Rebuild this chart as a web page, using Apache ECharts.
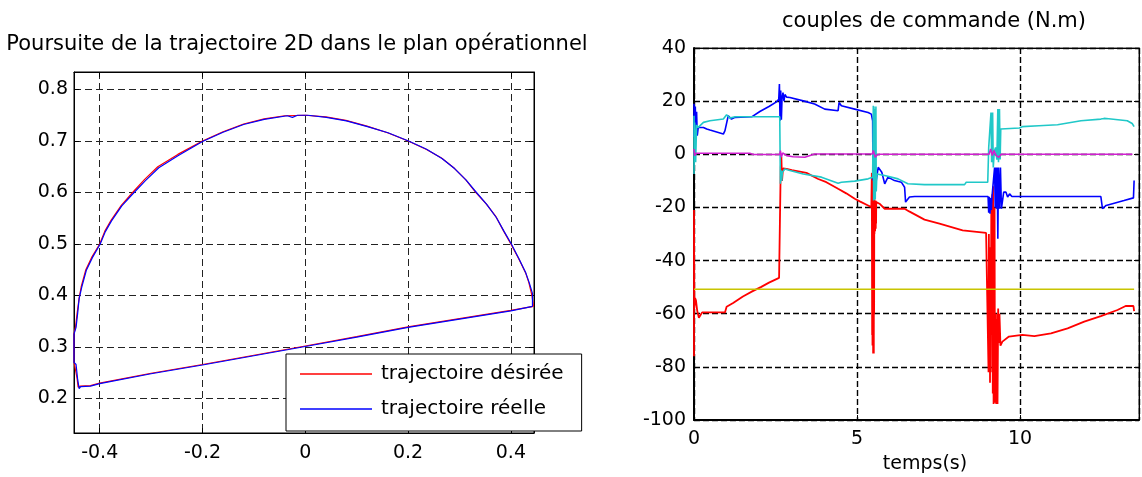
<!DOCTYPE html>
<html>
<head>
<meta charset="utf-8">
<script src="https://cdn.jsdelivr.net/npm/echarts@6/dist/echarts.min.js"></script>
<style>
  html, body { margin: 0; padding: 0; background: #fff; }
  #chart { width: 1142px; height: 477px; }
</style>
</head>
<body>
<div id="chart"></div>
<script>
// ---- Trajectory in the operational plane (x, y in m) ----
const desiredPath = [
  [0.444,0.379],[0.441,0.400],[0.435,0.425],[0.429,0.443],[0.415,0.472],[0.400,0.500],
  [0.386,0.525],[0.371,0.553],[0.352,0.578],[0.332,0.600],[0.312,0.625],[0.290,0.647],
  [0.265,0.667],[0.235,0.684],[0.200,0.700],[0.160,0.716],[0.120,0.729],[0.079,0.740],
  [0.040,0.747],[0.000,0.750],[-0.040,0.749],[-0.080,0.743],[-0.120,0.733],[-0.160,0.718],
  [-0.200,0.700],[-0.248,0.674],[-0.287,0.650],[-0.313,0.625],[-0.336,0.600],[-0.358,0.575],
  [-0.378,0.546],[-0.390,0.525],[-0.400,0.500],[-0.415,0.475],[-0.427,0.450],[-0.436,0.417],
  [-0.440,0.395],[-0.444,0.365],[-0.447,0.339],[-0.450,0.326],[-0.450,0.271],[-0.447,0.268],
  [-0.444,0.239],[-0.442,0.222],[-0.438,0.224],[-0.418,0.225],[-0.400,0.230],[-0.300,0.249],
  [-0.200,0.266],[-0.100,0.284],[0.000,0.302],[0.100,0.320],[0.200,0.339],[0.300,0.355],
  [0.400,0.371],[0.444,0.379]
];
const realPath = [
  [0.442,0.379],[0.442,0.404],[0.436,0.424],[0.429,0.444],[0.416,0.471],[0.401,0.500],
  [0.387,0.524],[0.372,0.551],[0.353,0.577],[0.333,0.600],[0.313,0.624],[0.291,0.646],
  [0.266,0.666],[0.236,0.684],[0.201,0.700],[0.161,0.716],[0.121,0.728],[0.080,0.739],
  [0.041,0.746],[0.005,0.750],[-0.015,0.750],[-0.025,0.746],[-0.035,0.749],[-0.080,0.742],
  [-0.120,0.732],[-0.160,0.717],[-0.200,0.699],[-0.247,0.672],[-0.285,0.648],[-0.311,0.623],
  [-0.334,0.599],[-0.357,0.574],[-0.377,0.545],[-0.389,0.524],[-0.399,0.500],[-0.414,0.474],
  [-0.426,0.449],[-0.435,0.416],[-0.440,0.394],[-0.443,0.364],[-0.446,0.338],[-0.450,0.325],
  [-0.450,0.270],[-0.446,0.266],[-0.443,0.238],[-0.440,0.219],[-0.437,0.223],[-0.418,0.224],
  [-0.400,0.229],[-0.300,0.248],[-0.200,0.265],[-0.100,0.283],[0.000,0.301],[0.100,0.319],
  [0.200,0.338],[0.300,0.354],[0.400,0.370],[0.442,0.379]
];
const pathNames = ['trajectoire désirée', 'trajectoire réelle'];

// ---- Control torques (t in s, torque in N.m) ----
const torqueRed = [
  [0,-76],[0,-21],[0.01,-58],[0.03,-54],[0.06,-55],[0.1,-59],[0.15,-61.5],[0.2,-60.5],[0.25,-59.5],
  [0.95,-59.5],[1.0,-57.4],[1.2,-56],[1.5,-53.5],[1.8,-51.5],[2.05,-50],[2.3,-48.3],[2.61,-46.5],
  [2.65,-46.5],[2.66,-5],[2.68,-1],[2.70,-10],[2.73,-5.3],[2.84,-5.5],[3.0,-6],[3.45,-7],[3.81,-9.3],
  [4.06,-10.5],[4.42,-13],[4.67,-14.7],[4.93,-16.75],[5.1,-17.8],[5.34,-19.25],[5.44,-19.9],
  [5.455,-7],[5.465,-68],[5.47,-10],[5.475,-72],[5.48,-12],[5.485,-70],[5.49,-8],[5.495,-75],
  [5.50,-15],[5.505,-73],[5.51,-20],[5.515,-75],[5.52,-17],[5.525,-60],[5.53,-18],[5.535,-30],
  [5.54,-17],[5.545,-28],[5.55,-18],[5.555,-29],[5.56,-17.5],[5.565,-27],[5.57,-18],[5.575,-28],
  [5.58,-17.5],[5.585,-26],[5.59,-18],[5.62,-18],[5.69,-18.6],[5.85,-20.5],[6.46,-20.5],
  [6.6,-21.5],[7.07,-24.6],[7.53,-26.1],[8.24,-28.6],[8.96,-29.6],[9.02,-30],[9.035,-82],[9.045,-30],
  [9.06,-80],[9.07,-40],[9.08,-86],[9.09,-35],[9.10,-82],[9.12,-20],[9.135,-60],[9.15,-15],
  [9.165,-90],[9.175,-12],[9.19,-94],[9.20,-63],[9.21,-93],[9.22,-20],[9.23,-93.5],[9.24,-60],
  [9.25,-92],[9.26,-62],[9.27,-94],[9.28,-64],[9.29,-92],[9.30,-60],[9.31,-94],[9.33,-58],
  [9.35,-71],[9.37,-60],[9.40,-72],[9.46,-70.5],[9.51,-70.5],[9.66,-68.6],[10.07,-68],
  [10.44,-68.4],[10.95,-67.4],[11.46,-65.5],[11.97,-63],[12.48,-60.9],[12.99,-58.6],
  [13.24,-57.1],[13.48,-57.1],[13.5,-59]
];
const torqueBlue = [
  [0,6.5],[0,19],[0.02,8],[0.04,18],[0.06,6.4],[0.08,16],[0.10,7],[0.13,10.1],[0.29,10.1],
  [0.39,9.5],[0.49,9.1],[0.90,7.6],[0.95,8.9],[1.05,14.5],[1.15,13.25],[1.26,13.9],[1.77,14.1],
  [2.02,16.1],[2.3,18],[2.53,19.75],[2.60,20.75],[2.62,26.4],[2.64,12.6],[2.66,24],[2.68,13],
  [2.70,21],[2.73,23.25],[2.76,20],[2.79,22.5],[2.84,21.5],[2.94,21.4],[3.35,20.1],[3.70,18.9],
  [4.01,17],[4.42,16.4],[4.45,19.5],[4.52,18.25],[4.93,17],[5.34,15.75],[5.44,15.1],[5.48,12.6],
  [5.49,-9.9],[5.51,1.4],[5.54,-2],[5.57,-12],[5.59,-9.9],[5.65,-4.9],[5.69,-5.5],[5.76,-6.75],
  [5.85,-11.1],[5.95,-8.6],[6.15,-9.9],[6.36,-10.5],[6.46,-12.4],[6.49,-18],[6.61,-16.1],
  [6.77,-15.9],[9.02,-15.9],[9.04,-22],[9.06,-16],[9.08,-22.4],[9.10,-16.5],[9.12,-21],[9.14,-16],
  [9.20,-16],[9.22,-5],[9.24,-20],[9.26,-5],[9.28,-20.5],[9.30,-5],[9.32,-31.75],[9.34,-5],
  [9.37,-20.5],[9.40,-5],[9.43,-20.5],[9.47,-20.5],[9.50,-14.25],[9.57,-14.25],[9.62,-16.1],
  [9.68,-14.9],[9.75,-15.9],[12.48,-15.9],[12.53,-20.5],[12.64,-19.25],[12.89,-18.4],
  [13.19,-17.4],[13.48,-16.4],[13.5,-9.9]
];
const torqueCyan = [
  [0,14.5],[0,-7.4],[0.02,12],[0.05,-3],[0.08,11],[0.13,10.1],[0.29,12],[0.49,12.6],[0.90,13.25],
  [1.0,14.9],[1.1,13.6],[1.26,14.1],[2.63,14.1],[2.65,-11.1],[2.67,-6],[2.69,-10],[2.71,-6.75],
  [2.79,-5.5],[2.94,-6.1],[3.35,-7.4],[3.91,-8.6],[4.42,-10.9],[4.47,-11.4],[4.52,-10.5],
  [4.93,-10.1],[5.34,-9.25],[5.48,-8.6],[5.50,18.25],[5.51,-17.4],[5.52,18],[5.53,-15],[5.55,17],
  [5.56,-17],[5.58,18],[5.59,-14],[5.61,-7.4],[5.64,-7.4],[5.85,-8],[6.26,-9.25],[6.56,-11.1],
  [7.07,-11.4],[8.30,-11.4],[8.35,-10.5],[9.01,-10.5],[9.04,2.6],[9.08,2],[9.11,15.75],[9.13,-3],
  [9.16,15.75],[9.18,-5],[9.21,1],[9.25,2.6],[9.29,-2],[9.32,17],[9.34,-3],[9.37,17],[9.39,-2],
  [9.41,9.5],[9.45,9.9],[9.98,9.9],[10.07,10.4],[10.58,10.75],[11.15,11.1],[11.87,12.6],
  [12.48,13.25],[12.53,12.6],[12.58,13.5],[12.64,12.8],[12.72,13.4],[13.29,12.6],[13.44,11.6],
  [13.5,10.4]
];
const torqueMagenta = [
  [0,2],[0.02,-0.5],[0.06,0.4],[0.3,0.4],[1.71,0.4],[1.82,-0.1],[2.63,-0.1],[2.65,1.4],[2.68,-1.1],
  [2.72,0.5],[2.84,-0.5],[3.04,-0.9],[3.40,-1.1],[3.70,0.1],[5.47,0.1],[5.50,1.4],[5.56,-1.1],
  [5.62,-0.2],[5.70,0],[9.05,0],[9.10,2],[9.15,-0.5],[9.20,1.4],[9.27,-0.5],[9.35,-1.1],[9.42,0],
  [13.45,0]
];
const torqueYellow = [[0,-50.8],[13.5,-50.8]];

const FONT = '"DejaVu Sans", sans-serif';

// Box axes with inward ticks on all four sides, dashed grid inside
function boxAxes(gridIndex, base, dash, gridColor, gridWidth, label) {
  const main = Object.assign({
    type: 'value', gridIndex,
    axisLine: { show: true, onZero: false, lineStyle: { color: '#000', width: 1 } },
    axisTick: { show: true, inside: true, length: 5, lineStyle: { color: '#000' } },
    axisLabel: Object.assign({ color: '#000', fontFamily: FONT, showMinLabel: false, showMaxLabel: false }, label),
    splitLine: { show: true, lineStyle: { color: gridColor, width: gridWidth, type: dash } }
  }, base);
  const mirror = Object.assign({}, base, {
    type: 'value', gridIndex,
    axisLine: { show: true, onZero: false, lineStyle: { color: '#000', width: 1 } },
    axisTick: { show: true, inside: true, length: 5, lineStyle: { color: '#000' } },
    axisLabel: { show: false }, splitLine: { show: false }
  });
  return [main, mirror];
}

const [lx0, lx1] = boxAxes(0, { min: -0.45, max: 0.445, splitNumber: 5 }, [7, 4], '#222', 1,
  { fontSize: 19, margin: 11 });
lx0.position = 'bottom'; lx1.position = 'top';
const [ly0, ly1] = boxAxes(0, { min: 0.133, max: 0.834, splitNumber: 7 }, [7, 4], '#222', 1,
  { fontSize: 19, margin: 6 });
ly0.position = 'left'; ly1.position = 'right';

const [rx0, rx1] = boxAxes(1, { min: 0, max: 13.65, interval: 5 }, [6, 3], '#000', 1.4,
  { fontSize: 19, margin: 10, showMinLabel: true });
rx0.position = 'bottom'; rx1.position = 'top';
const [ry0, ry1] = boxAxes(1, { min: -100, max: 40, interval: 20 }, [6, 3], '#000', 1.4,
  { fontSize: 19, margin: 8, showMinLabel: true, showMaxLabel: true });
ry0.position = 'left'; ry1.position = 'right';
rx0.axisLine.lineStyle.width = 2; ry0.axisLine.lineStyle.width = 2;

function line(name, data, color, xi, yi, width, z) {
  return {
    name, type: 'line', data, xAxisIndex: xi, yAxisIndex: yi,
    showSymbol: false, symbol: 'none', silent: true, z,
    lineStyle: { color, width }, itemStyle: { color }
  };
}

const option = {
  animation: false,
  backgroundColor: '#fff',
  textStyle: { fontFamily: FONT },
  grid: [
    { left: 74, top: 72, width: 460, height: 361, show: true, borderColor: '#000', borderWidth: 1 },
    { left: 694, top: 48, width: 445, height: 372, show: true, borderColor: '#333', borderWidth: 1 }
  ],
  xAxis: [lx0, lx1, rx0, rx1],
  yAxis: [ly0, ly1, ry0, ry1],
  legend: {
    data: pathNames,
    orient: 'vertical', left: 286, top: 354,
    backgroundColor: '#fff', borderColor: '#000', borderWidth: 1,
    padding: [10, 18, 12, 14],
    icon: 'rect', itemWidth: 72, itemHeight: 1.5, itemGap: 15,
    textStyle: { fontSize: 20, color: '#000', fontFamily: FONT, padding: [0, 0, 0, 4] },
    z: 20
  },
  graphic: [
    { type: 'text', x: 297, y: 45, z: 30,
      style: { text: 'Poursuite de la trajectoire 2D dans le plan opérationnel', font: '21px ' + FONT,
               fill: '#000', align: 'center', verticalAlign: 'middle' } },
    { type: 'text', x: 934, y: 22, z: 30,
      style: { text: 'couples de commande (N.m)', font: '21px ' + FONT,
               fill: '#000', align: 'center', verticalAlign: 'middle' } },
    { type: 'text', x: 925, y: 464, z: 30,
      style: { text: 'temps(s)', font: '19px ' + FONT,
               fill: '#000', align: 'center', verticalAlign: 'middle' } }
  ],
  series: [
    line(pathNames[0], desiredPath, '#ff0000', 0, 0, 1.2, 3),
    line(pathNames[1], realPath, '#0000ff', 0, 0, 1.2, 4),
    line('Γ1', torqueRed, '#ff0000', 2, 2, 1.8, 3),
    line('Γ2', torqueBlue, '#0000ff', 2, 2, 1.6, 4),
    line('Γ3', torqueCyan, '#20c8c8', 2, 2, 1.6, 5),
    line('Γ4', torqueMagenta, '#d020d0', 2, 2, 1.6, 6),
    line('Γ5', torqueYellow, '#c8c400', 2, 2, 1.6, 7)
  ]
};

echarts.init(document.getElementById('chart')).setOption(option);
</script>
</body>
</html>
